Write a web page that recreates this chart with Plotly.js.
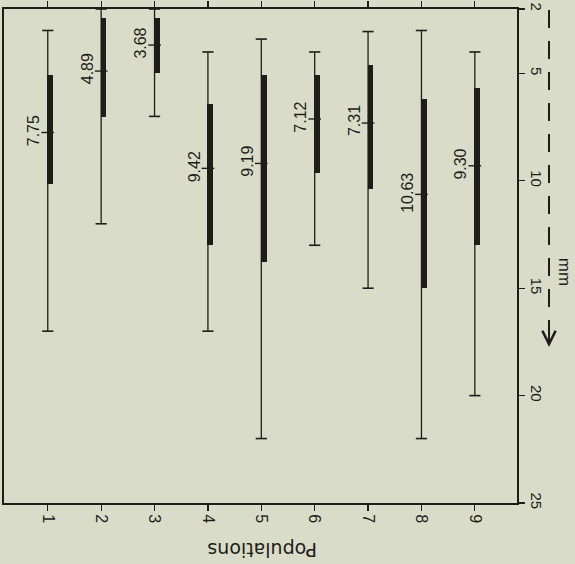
<!DOCTYPE html>
<html>
<head>
<meta charset="utf-8">
<script src="https://cdn.plot.ly/plotly-3.0.1.min.js"></script>
<style>
  html, body { margin: 0; padding: 0; background: #d9dcc8; }
  #chart { width: 575px; height: 564px; }
</style>
</head>
<body>
<div id="chart"></div>
<script>
// ---- data (mm) ----
const populations = [1, 2, 3, 4, 5, 6, 7, 8, 9];
const rangeMin    = [3.0, 2.0, 2.0, 4.0, 3.4, 4.0, 3.05, 3.0, 4.0];     // upper end of thin line
const rangeMax    = [17.0, 12.0, 7.0, 17.0, 22.0, 13.0, 15.0, 22.0, 20.0]; // lower end of thin line
const boxLow      = [5.05, 2.43, 2.43, 6.4, 5.05, 5.05, 4.6, 6.2, 5.7];  // top of thick bar
const boxHigh     = [10.15, 7.05, 5.0, 13.0, 13.8, 9.65, 10.4, 15.0, 13.0]; // bottom of thick bar
const means       = [7.75, 4.89, 3.68, 9.42, 9.19, 7.12, 7.31, 10.63, 9.30];
const yTicks      = [2, 5, 10, 15, 20, 25];

const INK = '#1e1d1a';
const BG = '#d9dcc8';

// thin range lines
const wx = [], wy = [];
populations.forEach((p, i) => { wx.push(p, p, null); wy.push(rangeMin[i], rangeMax[i], null); });
const whiskers = {
  type: 'scatter', mode: 'lines', x: wx, y: wy,
  line: { color: INK, width: 1.3 }, hoverinfo: 'skip', showlegend: false
};

// caps at both ends
const caps = {
  type: 'scatter', mode: 'markers',
  x: populations.concat(populations),
  y: rangeMin.concat(rangeMax),
  marker: { symbol: 'line-ew', size: 8, color: INK, line: { color: INK, width: 1.6 } },
  hoverinfo: 'skip', showlegend: false
};

// thick bars
const bars = {
  type: 'bar', x: populations,
  base: boxLow,
  y: boxHigh.map((h, i) => h - boxLow[i]),
  width: 0.11, offset: -0.01,
  marker: { color: INK, line: { width: 0 } },
  hoverinfo: 'skip', showlegend: false
};

// mean tick marks
const meanTicks = {
  type: 'scatter', mode: 'markers', x: populations, y: means,
  marker: { symbol: 'line-ew', size: 9, color: INK, line: { color: INK, width: 1.4 } },
  hoverinfo: 'skip', showlegend: false
};

const annotations = populations.map((p, i) => ({
  x: p, y: means[i], xref: 'x', yref: 'y',
  text: means[i].toFixed(2), showarrow: false,
  textangle: -90, xshift: -14, yshift: 2,
  font: { family: 'Liberation Sans, Arial, sans-serif', size: 16, color: INK }
}));

annotations.push({
  xref: 'paper', yref: 'paper', x: 0.503, y: 0, yshift: -47,
  text: 'Populations', showarrow: false, textangle: 180,
  xanchor: 'center', yanchor: 'middle',
  font: { family: 'DejaVu Sans, sans-serif', size: 19, color: INK }
});
annotations.push({
  xref: 'paper', yref: 'paper', x: 1, xshift: 47, y: 0.468,
  text: 'mm', showarrow: false, textangle: 90,
  xanchor: 'center', yanchor: 'middle',
  font: { family: 'Liberation Sans, Arial, sans-serif', size: 17, color: INK }
});
// arrow head of the dashed mm direction line
annotations.push({
  xref: 'paper', yref: 'paper', x: 1.0624, y: 0.316,
  ax: 0, ay: -22, axref: 'pixel', ayref: 'pixel',
  text: '', showarrow: true, arrowhead: 5, arrowsize: 1.3, arrowwidth: 2, arrowcolor: INK
});

const layout = {
  width: 575, height: 564,
  paper_bgcolor: BG, plot_bgcolor: BG,
  margin: { l: 4, r: 58, t: 9, b: 61 },
  showlegend: false,
  bargap: 0,
  xaxis: {
    range: [0.18, 9.79], tickvals: populations, ticktext: populations.map(String),
    tickangle: 90, ticks: 'outside', ticklen: 6, tickwidth: 1.3, tickcolor: INK,
    showline: true, linecolor: INK, linewidth: 2, mirror: 'ticks',
    showgrid: false, zeroline: false, fixedrange: true,
    tickfont: { family: 'Liberation Sans, Arial, sans-serif', size: 16, color: INK }
  },
  yaxis: {
    range: [25, 2], side: 'right', tickvals: yTicks, ticktext: yTicks.map(String),
    tickangle: 90, ticks: 'outside', ticklen: 6, tickwidth: 1.3, tickcolor: INK,
    showline: true, linecolor: INK, linewidth: 2, mirror: true,
    showgrid: false, zeroline: false, fixedrange: true,
    tickfont: { family: 'Liberation Sans, Arial, sans-serif', size: 15, color: INK }
  },
  shapes: [{
    type: 'line', xref: 'paper', yref: 'paper',
    x0: 1.0624, x1: 1.0624, y0: 0.998, y1: 0.34,
    line: { color: INK, width: 2, dash: '18px,13px' }
  }],
  annotations: annotations
};

Plotly.newPlot('chart', [whiskers, bars, caps, meanTicks], layout, { displayModeBar: false, staticPlot: true });
</script>
</body>
</html>
